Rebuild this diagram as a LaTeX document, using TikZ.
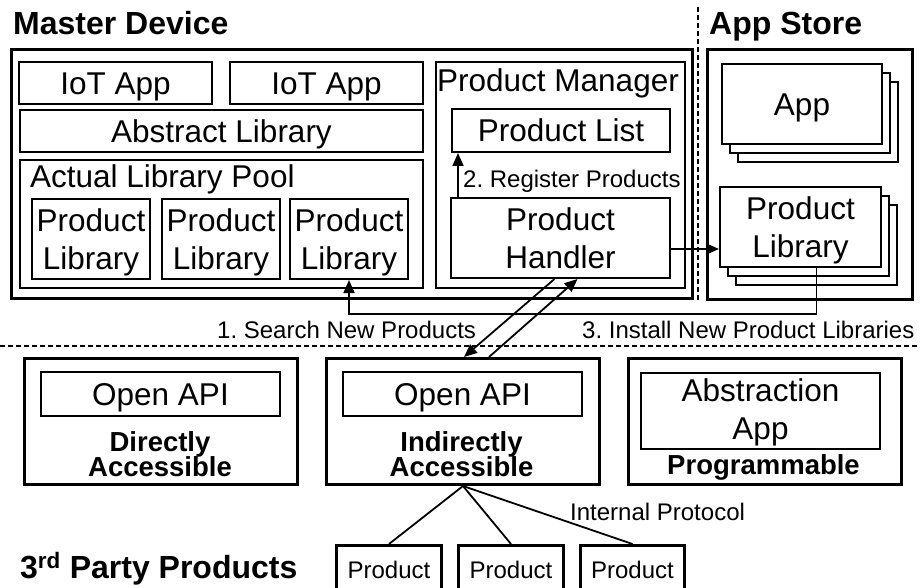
\documentclass[tikz,border=0pt]{standalone}
\usepackage{fontspec}
\setmainfont{Liberation Sans}
\usetikzlibrary{arrows.meta,calc}

% two stacked lines whose baseline is the baseline of the second line
\newcommand{\twol}[2]{\begin{tabular}[b]{@{}c@{}}#1\\#2\end{tabular}}

\tikzset{
  outerbox/.style={draw, line width=3pt, inner sep=0pt, anchor=north west},
  innerbox/.style={draw, line width=2pt, inner sep=0pt, fill=white, anchor=north west, align=center},
  big/.style={font=\fontsize{31.5}{38}\selectfont},
  small/.style={font=\fontsize{24}{28}\selectfont},
  onecap/.style={text height=23pt, text depth=0pt},
  twocap/.style={text height=60pt, text depth=0pt},
  title/.style={font=\fontsize{32}{37}\selectfont\bfseries, inner sep=0pt, anchor=base west},
  tag/.style={font=\fontsize{27.5}{30}\selectfont\bfseries, inner sep=0pt, anchor=base},
  caption/.style={inner sep=0pt, anchor=base west},
  conn/.style={line width=1.8pt},
  arr/.style={conn, -{Triangle[length=13pt,width=11pt]}},
  divider/.style={line width=1.5pt, dash pattern=on 5pt off 3pt},
}

\begin{document}
\frenchspacing
\begin{tikzpicture}[x=1pt, y=-1pt]
\path[use as bounding box, clip] (0,0) rectangle (920,588);

% ---------- Master Device ----------
\node[title] (mdt) at (13,35) {Master Device};
\node[outerbox, minimum width=681, minimum height=249] (md) at (10,48) {};
\node[innerbox, big, onecap, minimum width=193, minimum height=42] (iot1) at (18,61) {IoT App};
\node[innerbox, big, onecap, minimum width=193, minimum height=42] (iot2) at (229,61) {IoT App};
\node[innerbox, big, onecap, minimum width=403, minimum height=42] (abs) at (19,109) {Abstract Library};
\node[innerbox, minimum width=403, minimum height=128] (pool) at (19,159) {};
\node[caption, big] (poolt) at (30,188) {Actual Library Pool};
\node[innerbox, big, twocap, minimum width=118, minimum height=80] (pl1) at (31,198) {\twol{Product}{Library}};
\node[innerbox, big, twocap, minimum width=118, minimum height=80] (pl2) at (161,198) {\twol{Product}{Library}};
\node[innerbox, big, twocap, minimum width=118, minimum height=80] (pl3) at (289,198) {\twol{Product}{Library}};

\node[innerbox, minimum width=249, minimum height=226] (pm) at (435,61) {};
\node[caption, big] (pmt) at (437,92) {Product Manager};
\node[innerbox, big, onecap, minimum width=218, minimum height=43] (plist) at (451,108) {Product List};
\node[innerbox, big, twocap, minimum width=219, minimum height=80] (ph) at (450,197) {\twol{Product}{Handler}};
\node[caption, small] (regt) at (463,188) {2. Register Products};

% ---------- App Store ----------
\node[title] (ast) at (709,35) {App Store};
\node[outerbox, minimum width=205, minimum height=250] (as) at (706,48) {};
\node[innerbox, minimum width=160, minimum height=80] (app3) at (737,81) {};
\node[innerbox, minimum width=160, minimum height=80] (app2) at (729,72) {};
\node[innerbox, big, onecap, minimum width=160, minimum height=80] (app) at (721,63) {App};
\node[innerbox, minimum width=161, minimum height=80] (asl3) at (735,204) {};
\node[innerbox, minimum width=161, minimum height=80] (asl2) at (727,195) {};
\node[innerbox, big, twocap, minimum width=161, minimum height=80] (asl) at (719,186) {\twol{Product}{Library}};

% ---------- separators ----------
\coordinate (vtop) at (698,7);
\coordinate (vbot) at (698,300);
\draw[divider] (vtop) -- (vbot);
\coordinate (hl) at (0,346);
\coordinate (hr) at (920,346);
\draw[divider] (hl) -- (hr);

% ---------- connectors of the upper part ----------
\draw[arr] ([xshift=8pt]ph.north west) -- ([xshift=8pt]ph.north west |- plist.south);
\draw[arr] ([yshift=-11pt]ph.east) -- ([yshift=-11pt]ph.east -| asl.west);
\draw[arr] ([xshift=16pt]asl.south) -- ++(0,46) -| (pl3.south);
\node[caption, small] (searcht) at (217,338) {1. Search New Products};
\node[caption, small] (installt) at (582,338) {3. Install New Product Libraries};

% ---------- 3rd party products ----------
\node[outerbox, minimum width=273, minimum height=126] (da) at (23,357) {};
\node[innerbox, big, onecap, minimum width=239, minimum height=44] (oa1) at (40,371) {Open API};
\node[tag] (da1) at (160,451) {Directly};
\node[tag] (da2) at (160,476) {Accessible};

\node[outerbox, minimum width=273, minimum height=126] (ia) at (325,357) {};
\node[innerbox, big, onecap, minimum width=239, minimum height=44] (oa2) at (342,371) {Open API};
\node[tag] (ia1) at (461.5,451) {Indirectly};
\node[tag] (ia2) at (461.5,476) {Accessible};

\node[outerbox, minimum width=273, minimum height=126] (pg) at (627,357) {};
\node[innerbox, big, text height=56pt, text depth=0pt, minimum width=239, minimum height=76] (aa) at (640,372) {\twol{Abstraction}{App}};
\node[tag] (pg1) at (763.5,474) {Programmable};

\draw[arr] ([xshift=-6pt]ph.south) -- ([xshift=1pt]ia.north);
\draw[arr] ([xshift=26pt]ia.north) -- ([xshift=17pt]ph.south);

\node[outerbox, small, minimum width=105, minimum height=54, text height=17, text depth=5] (p1) at (335,544) {Product};
\node[outerbox, small, minimum width=105, minimum height=54, text height=17, text depth=5] (p2) at (457,544) {Product};
\node[outerbox, small, minimum width=104, minimum height=54, text height=17, text depth=5] (p3) at (579,544) {Product};
\draw[conn] (ia.south) -- (p1.north);
\draw[conn] (ia.south) -- (p2.north);
\draw[conn] (ia.south) -- (p3.north);
\node[caption, small] (ipt) at (570,520) {Internal Protocol};

\node[title] (thirdt) at (20,578) {3\textsuperscript{rd} Party Products};
\end{tikzpicture}
\end{document}
